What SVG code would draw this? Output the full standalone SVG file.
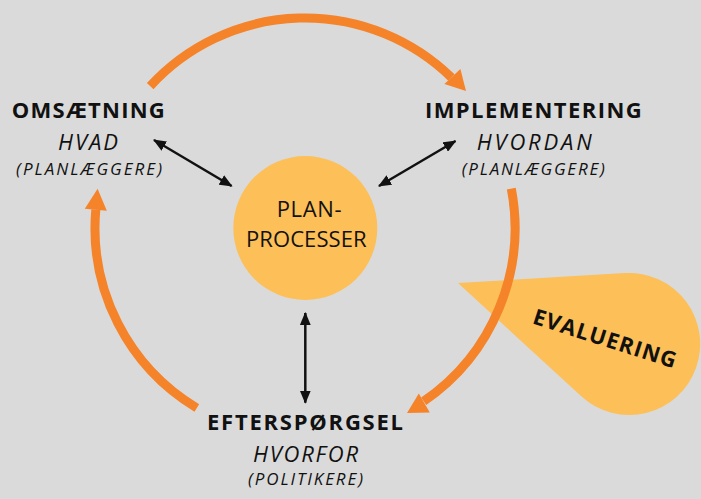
<svg xmlns="http://www.w3.org/2000/svg" width="701" height="499" viewBox="0 0 701 499">
<style>
.title{font-family:"Open Sans","Liberation Sans",sans-serif;font-weight:700;font-size:22px;fill:#111;text-anchor:middle}
.sub{font-family:"Open Sans","Liberation Sans",sans-serif;font-weight:400;font-style:italic;font-size:22px;fill:#111;text-anchor:middle}
.role{font-family:"Open Sans","Liberation Sans",sans-serif;font-weight:400;font-style:italic;font-size:17px;fill:#111;text-anchor:middle}
.center{font-family:"Open Sans","Liberation Sans",sans-serif;font-weight:400;font-size:22px;fill:#111;text-anchor:middle}
.arc{fill:none;stroke:#f5832a;stroke-width:9}
.head{fill:#f5832a}
.link{fill:none;stroke:#111;stroke-width:2.5}
.yellow{fill:#fdbf58}
</style>
<defs>
<marker id="ah" viewBox="0 0 12 10" refX="11" refY="5" markerWidth="13" markerHeight="11" markerUnits="userSpaceOnUse" orient="auto-start-reverse">
<path d="M0,0 L12,5 L0,10 z" fill="#111"/>
</marker>
</defs>
<rect width="701" height="499" fill="#dadada"/>
<g id="node-evaluering">
<path class="yellow" d="M458,283 L624.8,273.1 A71,71 0 1 1 581,396.1 Z"/>
<text class="title" x="602.5" y="345.8" textLength="149" lengthAdjust="spacing" transform="rotate(17.6 602.5 345.8)">EVALUERING</text>
</g>
<g id="node-planprocesser">
<circle class="yellow" cx="305.3" cy="228" r="72"/>
<text class="center" x="309.2" y="217.3" textLength="65" lengthAdjust="spacing">PLAN-</text>
<text class="center" x="306.3" y="247.3" textLength="120.7" lengthAdjust="spacing">PROCESSER</text>
</g>
<g id="connectors">
<path class="arc" d="M150.2,86.1 A210,210 0 0 1 451.4,77.5"/>
<polygon class="head" points="466,91 460.4,68.9 444.4,83.9"/>
<path class="arc" d="M511.3,188.6 A210,210 0 0 1 423.7,401.3"/>
<polygon class="head" points="407,413 429.8,412.5 418.8,393.5"/>
<path class="arc" d="M196.8,408 A210,210 0 0 1 95.8,209.7"/>
<polygon class="head" points="97.6,188.8 106.8,210.7 84.8,208.7"/>
<path class="link" d="M154,140 L231.6,186" marker-start="url(#ah)" marker-end="url(#ah)"/>
<path class="link" d="M455.5,141 L379,186" marker-start="url(#ah)" marker-end="url(#ah)"/>
<path class="link" d="M305.3,313 L305.3,402.7" marker-start="url(#ah)" marker-end="url(#ah)"/>
</g>
<g id="node-omsaetning">
<text class="title" x="88.3" y="118" textLength="153" lengthAdjust="spacing">OMSÆTNING</text>
<text class="sub" x="88" y="150" textLength="60" lengthAdjust="spacing">HVAD</text>
<text class="role" x="89" y="175" textLength="146" lengthAdjust="spacing">(PLANLÆGGERE)</text>
</g>
<g id="node-implementering">
<text class="title" x="533.3" y="118" textLength="216.7" lengthAdjust="spacing">IMPLEMENTERING</text>
<text class="sub" x="534.2" y="150" textLength="115" lengthAdjust="spacing">HVORDAN</text>
<text class="role" x="533.3" y="175" textLength="143.3" lengthAdjust="spacing">(PLANLÆGGERE)</text>
</g>
<g id="node-efterspoergsel">
<text class="title" x="305" y="430" textLength="196" lengthAdjust="spacing">EFTERSPØRGSEL</text>
<text class="sub" x="305.5" y="461.5" textLength="105" lengthAdjust="spacing">HVORFOR</text>
<text class="role" x="305.5" y="485" textLength="115" lengthAdjust="spacing">(POLITIKERE)</text>
</g>
</svg>
